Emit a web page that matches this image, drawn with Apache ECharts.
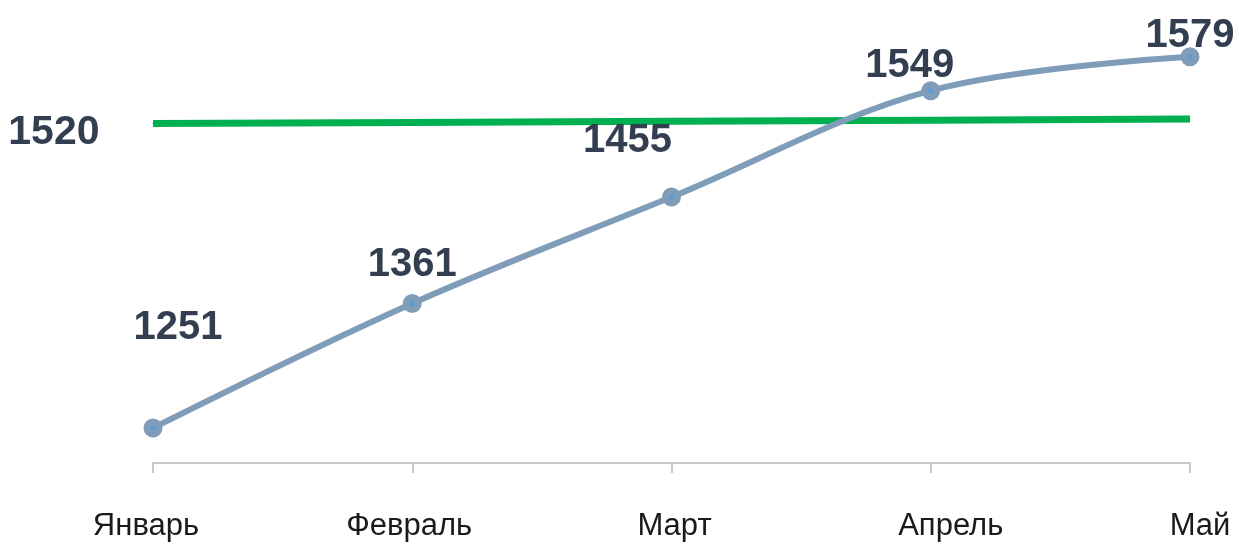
<!DOCTYPE html>
<html>
<head>
<meta charset="utf-8">
<script src="https://cdn.jsdelivr.net/npm/echarts@6/dist/echarts.min.js"></script>
<style>
html,body{margin:0;padding:0;background:#fff;}
#chart{width:1239px;height:544px;}
</style>
</head>
<body>
<div id="chart"></div>
<script>
const categories = ['Январь', 'Февраль', 'Март', 'Апрель', 'Май'];
const actualValues = [1251, 1361, 1455, 1549, 1579];
const targetValues = [1520, 1521, 1522, 1523, 1524];
const targetLabel = '1520';

const labelOffsets = [[25, -100], [0, -38], [-44, -56], [-21, -25], [0, -21]];
const axisLabelShift = [-7, -3, 3, 20, 10];
const textColor = '#333f50';
const fontFam = 'Liberation Sans, Arial, sans-serif';

const chart = echarts.init(document.getElementById('chart'), null, {renderer: 'canvas'});

const actualData = actualValues.map((v, i) => ({
  value: v,
  label: {offset: labelOffsets[i]}
}));
const targetData = targetValues.map((v, i) => i === 0 ? {
  value: v,
  label: {show: true, formatter: targetLabel}
} : v);

const rich = {};
axisLabelShift.forEach((s, i) => {
  rich['c' + i] = {
    fontSize: 31,
    color: '#1a1a1a',
    fontFamily: fontFam,
    padding: s >= 0 ? [0, 0, 0, 2 * s] : [0, -2 * s, 0, 0]
  };
});

chart.setOption({
  animation: false,
  backgroundColor: '#ffffff',
  grid: {left: 153, right: 49, top: 33, bottom: 81, containLabel: false},
  xAxis: {
    type: 'category',
    data: categories,
    boundaryGap: false,
    axisLine: {show: true, lineStyle: {color: '#c9c9c9', width: 2}},
    axisTick: {show: true, length: 10, lineStyle: {color: '#c9c9c9', width: 2}},
    axisLabel: {
      margin: 48,
      fontSize: 31,
      color: '#1a1a1a',
      fontFamily: fontFam,
      interval: 0,
      formatter: (val, idx) => '{c' + idx + '|' + val + '}',
      rich: rich
    },
    splitLine: {show: false}
  },
  yAxis: {
    type: 'value',
    min: 1220,
    max: 1600,
    show: false,
    splitLine: {show: false}
  },
  series: [
    {
      name: 'target',
      type: 'line',
      data: targetData,
      symbol: 'circle',
      symbolSize: 1,
      itemStyle: {color: '#00b050'},
      lineStyle: {color: '#00b050', width: 7},
      label: {
        show: false,
        position: 'left',
        distance: 51,
        offset: [-2, 9],
        fontSize: 41,
        fontWeight: 'bold',
        color: textColor,
        fontFamily: fontFam
      },
      emphasis: {disabled: true},
      z: 2
    },
    {
      name: 'actual',
      type: 'line',
      data: actualData,
      smooth: 0.35,
      symbol: 'circle',
      symbolSize: 12,
      itemStyle: {color: '#5b9bd5', borderColor: '#7f9db9', borderWidth: 7},
      lineStyle: {color: '#7f9db9', width: 6},
      label: {
        show: true,
        position: 'inside',
        fontSize: 40,
        fontWeight: 'bold',
        color: textColor,
        fontFamily: fontFam
      },
      emphasis: {disabled: true},
      z: 3
    }
  ]
});
</script>
</body>
</html>
